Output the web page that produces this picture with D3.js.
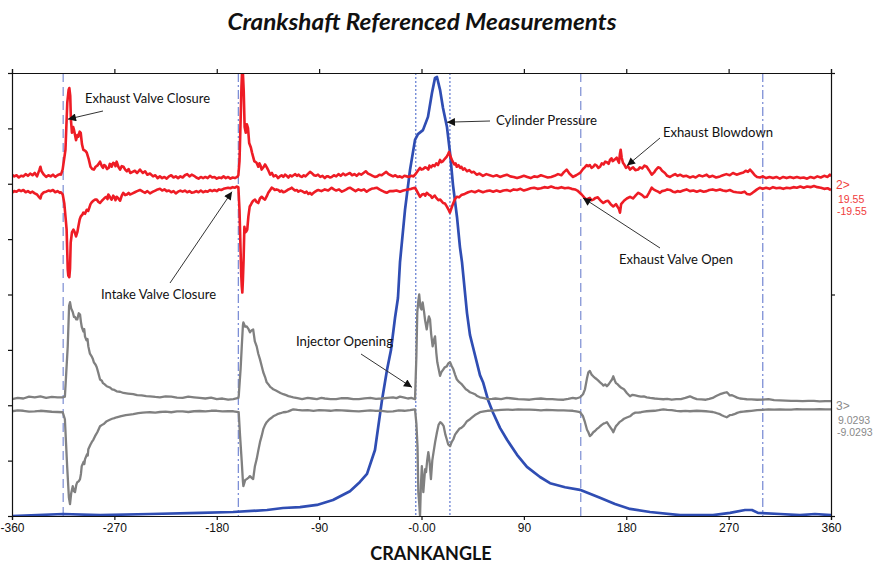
<!DOCTYPE html>
<html><head><meta charset="utf-8">
<script src="https://cdn.jsdelivr.net/npm/d3@7"></script>
<style>body{margin:0;background:#fff}svg{display:block}</style>
</head><body>
<svg id="c" width="879" height="567"></svg>
<script>
// ---------------- DATA ----------------
const xTickValues = [-360,-270,-180,-90,0,90,180,270,360];
const xTickLabels = ["-360","-270","-180","-90","-0.00","90","180","270","360"];
const frameTicks = [0,1,2,3,4,5,6,7,8];
const channelRed = {name:"2>", max:"19.55", min:"-19.55", range:19.55};
const channelGrey = {name:"3>", max:"9.0293", min:"-9.0293", range:9.0293};

const markerAngles = [-315,-161,-5,25,140,300];
const markerKinds  = ["dash","dashdot","dot","dot","dash","dashdot"];

// Red channel (2>) upper / lower envelope  [crank angle, value]
const redUpper = [[-360,1.6],[-358,1.3],[-356,1.5],[-354,1.1],[-352,1.4],[-350,1.3],[-348,1.7],[-346,1.4],[-344,1.8],[-342,1.5],[-340,1.9],[-338,1.3],[-336,2.4],[-335,3.0],[-334,2.2],[-332,1.6],[-330,1.2],[-328,1.5],[-326,1.3],[-324,1.6],[-322,1.2],[-320,1.5],[-318,1.7],[-317,1.6],[-315.5,2.5],[-313,6.0],[-311.4,14.3],[-310.2,16.6],[-309.6,16.9],[-308.8,15.5],[-308.2,11.3],[-307.3,9.0],[-306.2,10.0],[-305.5,9.5],[-304.5,8.5],[-303.7,7.7],[-302.5,8.6],[-301.7,8.3],[-300.5,9.2],[-299.6,9.0],[-298.5,7.0],[-297.3,6.0],[-295.5,5.8],[-294.3,5.5],[-292.5,4.3],[-291,3.0],[-289.5,2.6],[-288,2.5],[-286.5,3.0],[-285,3.2],[-283.5,3.6],[-282.6,3.9],[-281,3.1],[-280,2.8],[-279,3.3],[-278,3.2],[-276.5,2.6],[-275,2.8],[-274,3.5],[-273,3.4],[-272.4,3.0],[-271,3.7],[-270,3.6],[-269,3.1],[-268,3.9],[-266.5,3.0],[-265,2.5],[-263.5,3.1],[-262,3.0],[-260.5,2.5],[-259,2.2],[-257.5,2.6],[-256,1.9],[-254,2.1],[-252,2.3],[-250,1.9],[-247.5,2.5],[-245,1.9],[-243,2.2],[-241,1.6],[-238.7,1.8],[-236,1.3],[-234,1.5],[-232,1.0],[-230,1.3],[-228,1.0],[-226,1.2],[-224,0.9],[-222,1.3],[-220,1.5],[-218,1.1],[-216,1.3],[-214,1.0],[-212,1.3],[-210,1.1],[-208,1.5],[-206,1.7],[-204,1.3],[-202,1.6],[-200,1.4],[-198,1.1],[-196,0.9],[-194,1.2],[-192,1.0],[-190,1.2],[-188,1.0],[-186,1.4],[-184,1.1],[-182,1.2],[-180,0.9],[-178,1.1],[-176,1.0],[-174,1.3],[-172,1.0],[-170,1.2],[-168,0.9],[-166,1.1],[-164,1.0],[-162,1.2],[-161,1.5],[-160,4],[-159,11.3],[-158.3,17],[-157.8,19.5],[-157,19.5],[-156.3,16.5],[-155.5,10.0],[-154.5,9.0],[-153.5,10.5],[-152.5,9.8],[-151.5,7.2],[-150,6.4],[-149,5.5],[-147,4.0],[-145,3.7],[-143.5,3.0],[-142.5,3.6],[-141.5,3.2],[-140.5,2.5],[-139,2.9],[-137.5,3.4],[-136,2.9],[-135,2.5],[-133,1.6],[-131.5,1.9],[-130,1.3],[-128,1.5],[-126,1.0],[-124.5,1.3],[-123,1.5],[-121.5,1.2],[-120,1.6],[-118.5,1.4],[-117,1.1],[-115.5,1.5],[-114,1.3],[-112.5,1.5],[-111,1.7],[-109.5,1.4],[-108,1.6],[-106.5,1.3],[-105,1.2],[-103.5,1.5],[-102,1.3],[-100,1.7],[-98,2.1],[-96,1.8],[-94.5,1.5],[-93,1.4],[-91,1.6],[-89,1.2],[-87,1.4],[-85,1.0],[-83.5,1.3],[-82,1.3],[-80.5,1.1],[-79,1.2],[-77,1.5],[-75,1.3],[-73,1.7],[-71,1.4],[-69,1.8],[-67,1.5],[-65,1.7],[-63,1.9],[-61,1.5],[-59,1.7],[-57,1.4],[-55,1.8],[-53,1.6],[-51,1.9],[-49,2.2],[-47,1.8],[-45,1.6],[-43,1.4],[-41,1.2],[-39,1.3],[-37,1.6],[-35,1.5],[-33,1.8],[-31,2.1],[-29,1.7],[-27,1.5],[-25,1.3],[-23,1.5],[-21,1.2],[-19,1.3],[-17,1.1],[-15,1.4],[-13,1.3],[-11,1.2],[-9,1.4],[-7,1.3],[-5.7,1.6],[-3.5,2.2],[-1.3,2.8],[0,2.5],[1.5,2.6],[3,2.9],[4.6,2.8],[6,2.5],[7,3.2],[8.5,2.9],[10,3.3],[11.5,3.1],[13,3.6],[14.5,3.3],[16.3,4.2],[17.5,3.8],[19,4.0],[20.5,4.4],[22.2,4.8],[23.3,5.2],[24.2,5.6],[25.5,4.8],[26.8,4.2],[28,3.7],[29,3.4],[30,3.6],[31,3.0],[32.5,3.3],[34,2.8],[35,3.0],[36.5,2.5],[38,2.7],[40,2.2],[42,2.4],[44,2.0],[46,2.1],[48.5,1.6],[51,1.8],[54,1.4],[57,1.7],[60,1.5],[63,1.3],[66,1.5],[69,1.2],[72,1.4],[75,1.6],[78,1.3],[81,1.2],[84,1.0],[87,1.2],[90,1.4],[93,1.2],[96,1.0],[99,1.3],[102,1.2],[105,1.5],[108,1.3],[111,1.1],[114,1.2],[117,1.4],[120,1.7],[123,1.5],[125,2.0],[127.6,2.5],[130,1.8],[133.2,1.2],[136,1.5],[139.4,1.9],[142,2.6],[143.5,2.9],[145.2,3.3],[146.5,3.1],[148,3.3],[149.5,2.8],[151,3.0],[152.5,3.4],[154,3.2],[155.5,2.8],[157,3.0],[158.5,3.6],[160,3.4],[161.5,3.9],[163,3.8],[164.5,3.5],[165.7,4.2],[167,4.5],[168,4.0],[170,4.3],[171.6,4.6],[172.6,4.1],[173.6,3.7],[174.4,5.2],[175.1,6.0],[176,4.6],[177.1,3.7],[178.5,3.3],[179.8,2.8],[181.5,3.1],[183.3,2.5],[184.5,2.7],[186,2.9],[188,2.4],[190.4,2.5],[192,2.9],[194,2.7],[196,3.2],[198,3.0],[200,2.4],[202.4,1.6],[204.5,2.0],[206.2,2.5],[208,2.9],[209.7,2.8],[211.5,2.3],[214,1.9],[216,1.4],[218.5,1.2],[221,1.5],[223,1.7],[225,1.4],[227.3,1.6],[230,1.3],[233,1.4],[236,1.1],[238.7,1.3],[241,1.1],[244,1.5],[247,1.3],[250.7,1.6],[253,1.2],[256,1.4],[259,1.1],[262.4,1.3],[265,1.5],[268,1.7],[271,1.5],[273.8,1.9],[277,1.6],[280,1.8],[283,2.0],[285,2.3],[287,2.1],[288.8,2.5],[291,2.0],[293,1.5],[295,1.2],[297.6,1.1],[300,1.3],[303,1.0],[306,1.2],[309,1.0],[312,1.2],[315,0.9],[318,1.2],[321,1.0],[324,1.2],[327,1.0],[330,1.2],[333,1.0],[336,1.1],[339,0.9],[342,1.2],[345,1.0],[348,1.3],[351,1.1],[354,1.4],[357,1.2],[359,1.6],[360,1.3]];

const redLower = [[-360,-1.6],[-358,-1.3],[-356,-1.4],[-354,-1.1],[-352,-1.3],[-350,-1.1],[-348,-1.5],[-346,-1.3],[-344,-1.6],[-342,-1.4],[-340,-1.7],[-338,-1.9],[-336,-2.4],[-335,-2.6],[-334,-1.9],[-332,-1.5],[-330,-1.4],[-328,-1.2],[-326,-1.3],[-324,-1.1],[-322,-1.5],[-320,-1.3],[-318,-1.6],[-317,-1.5],[-315.4,-1.9],[-314,-3.5],[-312,-8],[-311,-15.1],[-310.5,-16.2],[-309.6,-16.5],[-309,-15],[-308.4,-10.4],[-307.3,-8.6],[-306,-8.1],[-305,-8.5],[-303.7,-9.3],[-302.5,-8.5],[-301.7,-7.6],[-300.5,-6.3],[-299.6,-5.8],[-298,-5.4],[-297.3,-5.1],[-295.8,-5.3],[-294.3,-4.6],[-293,-4.8],[-292,-4.2],[-291,-3.6],[-290,-3.3],[-288.5,-3.0],[-287,-2.8],[-285.5,-2.8],[-284,-3.2],[-282.6,-3.4],[-281,-3.0],[-280,-2.8],[-278.5,-2.5],[-277,-2.3],[-276,-2.7],[-275.3,-1.9],[-274.3,-2.2],[-273.5,-2.5],[-272.4,-2.8],[-271,-2.1],[-270,-2.4],[-269,-2.9],[-268,-2.3],[-266.5,-2.6],[-265,-3.0],[-263.5,-2.1],[-262.2,-1.6],[-260.5,-2.0],[-259,-1.9],[-257.5,-1.6],[-256.3,-1.9],[-254,-1.7],[-252,-1.5],[-250,-1.3],[-247.5,-1.1],[-245,-1.4],[-243,-1.6],[-241,-1.3],[-238.7,-1.7],[-236,-1.4],[-234,-1.2],[-232,-1.0],[-229.9,-0.9],[-228,-1.2],[-226,-1.0],[-224,-1.3],[-222,-1.2],[-220,-1.5],[-218,-1.3],[-216,-1.7],[-214,-1.4],[-212,-1.2],[-210,-1.4],[-208,-1.2],[-206,-1.5],[-204,-1.3],[-202,-1.6],[-200,-1.5],[-198,-1.3],[-196,-1.5],[-194,-1.2],[-192,-1.5],[-190,-1.3],[-188,-1.4],[-186,-1.1],[-184,-1.3],[-182,-1.1],[-180,-1.3],[-178,-1.0],[-176,-1.1],[-174,-0.9],[-172,-0.8],[-170,-0.7],[-168,-0.8],[-166,-0.6],[-164,-0.7],[-162.5,-0.5],[-161,-0.6],[-160,-4.6],[-158.5,-16],[-158,-18.1],[-157.5,-19.2],[-157,-17],[-156.4,-13.4],[-155.7,-7.6],[-154.9,-8.6],[-154,-8.4],[-153.2,-8.1],[-152.2,-5.8],[-151,-4.0],[-150,-3.7],[-149.3,-3.4],[-148,-3.0],[-146.4,-2.8],[-145,-3.2],[-143.5,-3.4],[-142,-2.6],[-140.5,-2.3],[-139,-2.6],[-137.6,-2.8],[-136,-2.2],[-134.7,-1.6],[-133,-1.1],[-131.7,-0.7],[-130,-0.9],[-129,-1.1],[-127.5,-1.0],[-125.9,-1.1],[-124.5,-1.4],[-123,-1.2],[-121.5,-1.5],[-120,-1.4],[-118.5,-1.2],[-117,-1.0],[-115.5,-0.9],[-114.1,-0.7],[-112.5,-1.0],[-111,-1.2],[-109.5,-1.1],[-108.3,-1.4],[-106.5,-1.2],[-105,-1.3],[-103.5,-1.5],[-102.4,-1.6],[-101,-1.4],[-99.5,-1.8],[-98,-1.6],[-96.5,-1.9],[-95,-1.6],[-93.5,-1.4],[-92,-1.2],[-90.7,-1.1],[-88,-1.3],[-85,-1.0],[-82,-1.2],[-79,-0.7],[-77,-1.0],[-75,-1.2],[-72.5,-1.0],[-70,-1.4],[-68,-1.2],[-66,-1.0],[-64.5,-0.8],[-62.9,-0.7],[-60.5,-1.0],[-58,-1.3],[-55.5,-1.0],[-53,-1.2],[-50.5,-1.0],[-48.2,-1.4],[-46,-1.1],[-44,-0.9],[-41.5,-0.8],[-39.4,-0.7],[-37,-1.0],[-35,-1.2],[-33,-1.4],[-30.6,-1.6],[-28,-1.3],[-25,-1.3],[-22,-1.2],[-18.9,-1.4],[-16,-1.2],[-14,-1.1],[-12,-1.0],[-9,-0.9],[-5.7,-0.7],[-3.5,-1.5],[-1.3,-2.3],[0.5,-1.9],[2,-1.8],[3.3,-2.1],[4.6,-1.6],[6.3,-1.9],[8,-2.1],[9.2,-2.5],[10.4,-2.3],[11.7,-2.1],[13,-2.5],[14.8,-2.9],[16.5,-2.8],[17.8,-3.1],[19,-3.4],[20.6,-3.5],[22.2,-4.0],[23.6,-4.5],[25,-5.1],[26.5,-4.2],[28,-3.4],[29.5,-2.7],[31,-2.3],[33,-2.4],[35,-2.0],[38,-1.8],[41,-1.5],[44,-1.3],[47,-1.5],[50,-1.2],[54,-1.5],[57,-1.3],[60,-1.2],[63,-1.4],[66,-1.2],[69,-1.4],[72,-1.2],[75,-1.1],[78,-1.3],[81,-1.0],[84,-1.1],[87,-0.9],[90,-1.2],[93,-1.0],[96,-0.8],[99,-0.7],[102,-0.9],[105,-0.8],[108,-0.6],[111,-0.7],[114,-0.5],[117,-0.7],[120,-0.8],[123,-0.6],[126,-0.8],[129,-0.7],[132,-0.9],[135,-1.0],[137,-1.2],[140.8,-1.9],[143,-2.4],[145.2,-2.8],[146.7,-2.6],[148,-2.5],[149.5,-2.9],[151,-2.8],[153,-2.5],[155,-2.4],[157.5,-3.0],[159.8,-3.4],[162,-3.1],[164,-3.0],[166.3,-3.6],[168.6,-4.0],[170,-3.8],[171,-3.6],[172.5,-4.1],[173.5,-4.4],[174.5,-5.1],[175.5,-3.6],[176.8,-3.3],[178,-3.0],[180.5,-2.6],[183.3,-2.3],[186,-2.6],[188.5,-2.0],[190.6,-1.6],[192.3,-1.8],[194,-2.0],[196,-2.4],[198,-2.3],[200,-1.6],[202.4,-0.7],[204,-1.0],[206,-1.2],[208,-1.4],[209.7,-1.6],[211.5,-1.3],[214,-1.2],[216,-1.0],[218.5,-1.1],[221,-1.4],[223,-1.5],[225,-1.3],[227.3,-1.4],[230,-1.2],[233,-1.0],[236,-1.3],[239,-1.2],[242,-1.4],[245,-1.2],[248,-1.4],[250.7,-1.3],[253,-1.1],[256,-1.0],[259,-1.2],[262.4,-1.0],[265,-1.2],[268,-1.3],[271,-1.1],[274,-1.4],[277,-1.5],[281,-1.6],[284,-1.4],[286,-1.8],[288.8,-1.9],[291,-1.6],[293,-1.3],[295,-1.0],[297.6,-0.7],[300,-0.9],[303,-0.7],[306,-0.9],[309,-0.6],[312,-0.8],[315,-0.7],[318,-0.9],[321,-0.7],[324,-0.8],[327,-0.6],[330,-0.7],[333,-0.5],[336,-0.7],[339,-0.5],[342,-0.6],[345,-0.4],[348,-0.6],[351,-0.7],[354,-0.9],[357,-0.8],[360,-1.1]];

// Grey channel (3>) upper / lower envelope
const greyUpper = [[-360,0.5],[-355,0.6],[-350,0.55],[-345,0.7],[-340,0.65],[-335,0.72],[-330,0.6],[-325,0.68],[-320,0.65],[-315.4,0.65],[-313.5,0.7],[-311,4.8],[-309.8,8.1],[-309,8.4],[-308,7.9],[-306.6,7.6],[-305.5,7.2],[-304.6,7.2],[-303.5,7.0],[-302.6,7.0],[-301.3,7.5],[-300.2,7.4],[-299.4,6.8],[-298.7,6.4],[-297.2,6.0],[-296.5,6.2],[-295.8,5.6],[-294.5,5.3],[-293.6,5.4],[-292.9,4.8],[-291.5,4.2],[-290,3.99],[-289,3.8],[-288,3.5],[-286.5,3.3],[-285.5,3.1],[-284,2.6],[-282.6,2.1],[-281,2.0],[-280,1.8],[-278.5,1.7],[-276.7,1.55],[-274,1.45],[-272,1.3],[-270,1.25],[-268,1.14],[-265,1.1],[-262,1.0],[-258,0.95],[-253.4,0.9],[-250,0.82],[-246,0.8],[-242,0.75],[-238.7,0.73],[-234,0.68],[-230,0.65],[-225,0.72],[-220,0.7],[-215,0.62],[-210,0.6],[-205,0.7],[-200,0.65],[-195,0.6],[-190,0.55],[-185,0.62],[-180,0.5],[-175,0.55],[-170,0.45],[-165.4,0.5],[-161,0.6],[-160.7,0.73],[-159,3.0],[-158,4.8],[-157,6.5],[-156.6,6.75],[-155,6.4],[-153.7,6.43],[-152,6.2],[-150.8,5.94],[-149.5,6.1],[-148,6.18],[-146.5,5.2],[-144.9,4.8],[-143.5,4.2],[-142,3.74],[-140.5,3.2],[-139.1,2.69],[-137.5,2.3],[-136.1,1.87],[-134.5,1.7],[-133,1.5],[-131.5,1.4],[-130.3,1.30],[-128,1.2],[-126,1.1],[-124,1.0],[-121.5,0.9],[-119,0.82],[-117,0.75],[-115,0.7],[-112.7,0.65],[-109,0.58],[-105,0.5],[-100,0.6],[-96,0.55],[-92,0.5],[-88,0.6],[-85,0.55],[-80,0.5],[-75,0.5],[-70,0.58],[-65,0.57],[-60,0.5],[-55,0.5],[-50,0.56],[-45,0.6],[-40,0.52],[-35,0.55],[-30,0.6],[-25,0.65],[-22,0.58],[-18.9,0.7],[-15,0.62],[-12,0.55],[-9,0.6],[-5.7,0.49],[-4.5,4.0],[-3.7,7.57],[-2.8,8.5],[-2.0,9.03],[-1,8.0],[0,7.81],[1,8.38],[2.2,7.65],[3.2,6.9],[4.6,6.18],[5.5,6.75],[6.5,7.24],[7.5,7.0],[8.5,5.8],[9.8,4.8],[10.8,5.3],[11.9,5.61],[13,4.3],[13.9,3.5],[15,3.0],[16.3,2.4],[17.5,2.7],[19.2,2.93],[20.5,3.1],[22.2,3.17],[23.5,3.4],[25.1,3.5],[26.5,3.2],[28,2.93],[29.5,2.5],[31,2.12],[33,1.9],[35,1.75],[36.8,1.55],[39,1.3],[40.8,1.2],[42.6,1.06],[45,0.98],[47,0.9],[49,0.75],[51.4,0.65],[55,0.58],[58,0.5],[62,0.52],[65,0.55],[70,0.5],[75,0.6],[80,0.55],[85,0.5],[90,0.48],[95,0.45],[100,0.52],[105,0.55],[110,0.5],[115,0.5],[120,0.46],[125,0.45],[129,0.52],[133,0.6],[136,0.55],[139.4,0.65],[142,0.9],[143.7,1.3],[145.5,2.2],[146.7,2.69],[148,2.8],[149.5,2.5],[151,2.36],[153,2.2],[155,2.05],[157,1.87],[158.5,1.75],[160,1.6],[161.5,1.7],[163,1.55],[164.5,1.7],[166,1.9],[167.5,2.1],[168.6,2.36],[170,2.0],[171,1.8],[172.5,1.7],[174,1.55],[176,1.4],[178,1.3],[180.5,1.0],[183.3,0.73],[185.5,0.85],[188,0.8],[190.5,0.75],[193,0.7],[195.5,0.72],[198,0.65],[201,0.6],[205,0.55],[208.5,0.52],[212.6,0.49],[216,0.52],[220,0.45],[224,0.5],[228,0.5],[232,0.6],[236,0.73],[239,0.6],[242,0.5],[246,0.48],[250,0.45],[253,0.52],[256,0.6],[259,0.75],[262.4,0.9],[264,0.95],[266,1.0],[268.3,1.06],[269.7,0.95],[271,0.8],[273,0.82],[275,0.73],[277.5,0.62],[280,0.55],[283,0.52],[285.9,0.49],[290,0.48],[295,0.45],[300,0.46],[305,0.5],[310,0.42],[315,0.4],[320,0.38],[325,0.35],[330,0.36],[335,0.33],[340,0.35],[345,0.35],[350,0.32],[355,0.34],[360,0.33]];

const greyLower = [[-360,-0.49],[-355,-0.42],[-350,-0.45],[-345,-0.52],[-340,-0.5],[-335,-0.45],[-330,-0.49],[-325,-0.53],[-320,-0.55],[-315.4,-0.57],[-313.5,-1.14],[-311.5,-5.0],[-310,-7.5],[-309,-8.06],[-308,-7.2],[-306.6,-6.6],[-305.5,-7.0],[-304.6,-7.08],[-303.5,-6.5],[-302.6,-6.27],[-301.3,-6.2],[-300.2,-6.02],[-299.4,-5.6],[-298.7,-4.96],[-297,-4.6],[-296.4,-4.8],[-295.8,-4.39],[-294,-4.0],[-293.4,-4.1],[-292.9,-3.58],[-291,-3.2],[-289.9,-3.01],[-288.4,-2.8],[-287,-2.52],[-285,-2.2],[-283.8,-1.95],[-282.6,-1.71],[-280.8,-1.6],[-279,-1.5],[-276.7,-1.30],[-274,-1.18],[-272,-1.1],[-270,-1.05],[-268,-0.98],[-264,-0.88],[-260,-0.8],[-256.5,-0.76],[-253.4,-0.73],[-249,-0.65],[-245,-0.6],[-242,-0.58],[-238.7,-0.57],[-234,-0.6],[-230,-0.55],[-225,-0.52],[-220,-0.57],[-215,-0.5],[-210,-0.5],[-205,-0.55],[-200,-0.49],[-195,-0.47],[-190,-0.5],[-185,-0.45],[-180,-0.45],[-175,-0.5],[-170,-0.49],[-165.4,-0.49],[-160.7,-0.57],[-159.5,-2.5],[-158,-4.64],[-157,-6.2],[-156.6,-6.59],[-155,-6.1],[-153.7,-6.02],[-152,-5.9],[-150.8,-5.78],[-149.5,-5.9],[-148,-6.02],[-146.5,-5.0],[-144.9,-4.39],[-143.5,-3.7],[-142,-3.01],[-140.5,-2.5],[-139.1,-1.95],[-137.5,-1.6],[-136.1,-1.38],[-134.5,-1.22],[-133,-1.1],[-131.5,-1.0],[-130.3,-0.90],[-128,-0.8],[-126,-0.7],[-124,-0.65],[-121.5,-0.57],[-119,-0.55],[-117,-0.5],[-115,-0.42],[-112.7,-0.33],[-109,-0.38],[-105,-0.41],[-100,-0.4],[-95,-0.45],[-90,-0.4],[-85,-0.41],[-80,-0.45],[-75,-0.4],[-70,-0.42],[-65,-0.45],[-60,-0.48],[-55,-0.5],[-50,-0.45],[-45,-0.41],[-40,-0.46],[-35,-0.45],[-30,-0.52],[-25,-0.5],[-20,-0.42],[-15,-0.45],[-10,-0.4],[-5.7,-0.33],[-4.5,-1.5],[-3.5,-3.34],[-2.8,-7.08],[-2.0,-8.0],[-1.3,-9.03],[-0.5,-6.5],[0.3,-4.96],[1.0,-6.0],[1.6,-7.08],[2.5,-6.0],[3.2,-5.2],[4.0,-5.45],[5,-4.5],[6,-3.82],[7,-4.5],[8.3,-6.02],[9.5,-4.5],[10.6,-3.82],[12,-3.0],[13.6,-2.20],[15,-1.6],[16.5,-1.38],[18,-1.5],[19.5,-1.71],[21,-2.4],[22.2,-2.77],[23.5,-3.2],[25.1,-3.34],[26.5,-3.0],[28,-2.77],[29.5,-2.4],[31,-2.2],[33.5,-1.9],[35,-1.85],[36.8,-1.71],[38.5,-1.5],[40,-1.3],[42.6,-1.14],[45,-0.95],[47,-0.8],[49,-0.7],[51.4,-0.57],[55,-0.5],[58,-0.45],[62,-0.43],[65,-0.41],[70,-0.38],[75,-0.35],[80,-0.37],[85,-0.33],[90,-0.36],[95,-0.35],[100,-0.38],[105,-0.41],[110,-0.37],[115,-0.4],[120,-0.42],[125,-0.41],[129,-0.44],[133,-0.45],[136,-0.5],[139.4,-0.57],[142,-0.9],[143.7,-1.38],[145.5,-2.0],[146.7,-2.2],[148,-2.52],[149.5,-2.4],[151,-2.2],[152.5,-2.1],[154,-1.95],[155.5,-1.85],[157,-1.71],[158.5,-1.6],[160,-1.5],[161.5,-1.45],[163,-1.38],[164.5,-1.6],[166,-1.8],[167.5,-2.0],[168.6,-2.2],[170,-1.9],[171,-1.7],[172.5,-1.55],[174,-1.38],[176,-1.25],[178,-1.1],[180.5,-1.0],[183.3,-0.90],[185.5,-0.72],[188,-0.6],[190.5,-0.6],[193,-0.57],[195.5,-0.52],[198,-0.49],[201,-0.47],[205,-0.45],[208.5,-0.4],[212.6,-0.33],[216,-0.38],[220,-0.4],[224,-0.45],[228,-0.49],[232,-0.46],[236,-0.49],[239,-0.47],[242,-0.45],[246,-0.47],[250,-0.49],[253,-0.52],[256,-0.55],[259,-0.63],[262.4,-0.73],[264,-0.82],[266,-0.9],[268.3,-0.98],[269.7,-0.9],[271,-0.8],[273,-0.78],[275,-0.73],[277.5,-0.62],[280,-0.55],[283,-0.52],[285.9,-0.49],[290,-0.45],[295,-0.4],[300,-0.37],[305,-0.33],[310,-0.35],[315,-0.33],[320,-0.36],[325,-0.35],[330,-0.32],[335,-0.33],[340,-0.34],[345,-0.33],[350,-0.31],[355,-0.33],[360,-0.33]];

// Cylinder pressure (% of full scale)
const pressure = [[-360,0],[-315,0.45],[-282.6,0.2],[-238.7,0.45],[-194.7,0.7],[-165.7,0.9],[-135.8,1.35],[-121.8,1.8],[-106.8,2.0],[-91.9,2.5],[-77.8,3.6],[-62.9,5.6],[-54.1,7.7],[-47.9,9.5],[-40.9,14.9],[-34.7,26.2],[-30.3,33.0],[-26.8,37.5],[-23.3,44.7],[-20.7,49.2],[-18.9,57.3],[-14.5,69.1],[-10.1,78.1],[-5.7,84.9],[-3.1,86.2],[1.3,87.1],[5.7,90.1],[9.2,95.5],[11.9,98.9],[13.6,99.1],[16.3,96.2],[18.9,92.1],[22.4,87.8],[25.1,81.9],[27.7,74.7],[31.2,67.5],[33.8,60.7],[35.6,57.3],[40.0,45.8],[42.6,40.9],[45.3,38.1],[51.4,31.8],[54.1,30.2],[58.5,26.2],[62.9,23.3],[69.0,19.9],[75.2,17.2],[84.0,13.8],[92.7,11.1],[104.2,8.8],[113.0,7.4],[126.2,6.5],[139.3,5.9],[148.1,5.0],[156.9,4.1],[170.1,2.7],[183.3,1.6],[200.9,0.9],[227.3,0.2],[256.3,0.2],[271.2,0.7],[284.4,1.35],[290.5,1.35],[295.8,0.7],[315.2,0.45],[332.7,0.2],[345.9,0.45],[360,0.2]];

const annotationTexts = ["Exhaust Valve Closure","Intake Valve Closure","Cylinder Pressure","Exhaust Blowdown","Exhaust Valve Open","Injector Opening"];
// arrow targets in data coordinates: [angle, channel, value]
const annotationTargets = [[-310.8,"red",11.4],[-166.6,"red",-1.4],[22.4,"blue",88.9],[180.7,"red",3.2],[142,"red",-2.5],[-8.4,"grey",1.46]];

// ---------------- LAYOUT ----------------
const L = 12, R = 831, T = 73, B = 516;
const svg = d3.select("#c");
const x = d3.scaleLinear().domain([-360,360]).range([L,R]);
const frameY = d3.scaleLinear().domain([0,8]).range([B,T]);
const yRed = d3.scaleLinear().domain([-channelRed.range, channelRed.range]).range([frameY(4), frameY(8)]);
const yGrey = d3.scaleLinear().domain([-channelGrey.range, channelGrey.range]).range([frameY(0), frameY(4)]);
const yBlue = d3.scaleLinear().domain([0,100]).range([B, T]);
const yOf = {red:yRed, grey:yGrey, blue:yBlue};

const defs = svg.append("defs");
defs.append("clipPath").attr("id","plot").append("rect").attr("x",L).attr("y",T).attr("width",R-L).attr("height",B-T);
defs.append("marker").attr("id","ah").attr("viewBox","0 0 10 10").attr("refX",10).attr("refY",5)
  .attr("markerWidth",10).attr("markerHeight",8).attr("markerUnits","userSpaceOnUse").attr("orient","auto")
  .append("path").attr("d","M0,0L10,5L0,10z").attr("fill","#111");

// title
svg.append("text").attr("x",422).attr("y",30).attr("text-anchor","middle")
  .attr("font-family","Lato, 'Open Sans', sans-serif").attr("font-style","italic").attr("font-weight","bold")
  .attr("font-size",23).attr("fill","#111").attr("textLength",389).attr("lengthAdjust","spacingAndGlyphs")
  .text("Crankshaft Referenced Measurements");

// markers
const dashFor = {dash:"9,5", dashdot:"9,3,2,3", dot:"2,2"};
const colFor = {dash:"#8595d6", dashdot:"#7d8fd6", dot:"#3d5cc6"};
svg.append("g").selectAll("line").data(markerAngles).join("line")
  .attr("x1",d=>x(d)).attr("x2",d=>x(d)).attr("y1",T).attr("y2",B)
  .attr("stroke",(d,i)=>colFor[markerKinds[i]]).attr("stroke-width",(d,i)=>markerKinds[i]==="dot"?1:1.3)
  .attr("stroke-dasharray",(d,i)=>dashFor[markerKinds[i]]);

const plot = svg.append("g").attr("clip-path","url(#plot)");
const mk = ys => d3.line().x(d=>x(d[0])).y(d=>ys(d[1]));
plot.append("path").datum(pressure).attr("d",mk(yBlue)).attr("fill","none").attr("stroke","#2f4db3").attr("stroke-width",2.7).attr("stroke-linejoin","round");
[greyUpper,greyLower].forEach(s=>plot.append("path").datum(s).attr("d",mk(yGrey)).attr("fill","none").attr("stroke","#808080").attr("stroke-width",2.3).attr("stroke-linejoin","round"));
[redUpper,redLower].forEach(s=>plot.append("path").datum(s).attr("d",mk(yRed)).attr("fill","none").attr("stroke","#ee1c25").attr("stroke-width",2.6).attr("stroke-linejoin","round"));

// axes
const axisFont = "'Liberation Sans Narrow','Arial Narrow','Liberation Sans',Arial,sans-serif";
const xb = svg.append("g").attr("transform",`translate(0,${B})`)
  .call(d3.axisBottom(x).tickValues(xTickValues).tickFormat((d,i)=>xTickLabels[i]).tickSize(4).tickPadding(3));
xb.selectAll("text").attr("font-family",axisFont).attr("font-size",12).attr("fill","#111");
svg.append("g").attr("transform",`translate(0,${T})`).call(d3.axisTop(x).tickValues(xTickValues).tickFormat("").tickSize(4));
svg.append("g").attr("transform",`translate(${L},0)`).call(d3.axisLeft(frameY).tickValues(frameTicks).tickFormat("").tickSize(4));
svg.append("g").attr("transform",`translate(${R},0)`).call(d3.axisRight(frameY).tickValues([0,4,8]).tickFormat("").tickSize(4));
svg.selectAll(".domain, .tick line").attr("stroke","#111").attr("stroke-width",1.2);

// axis title
svg.append("text").attr("x",431).attr("y",560).attr("text-anchor","middle")
  .attr("font-family","Lato, 'Open Sans', sans-serif").attr("font-weight","bold").attr("font-size",18).attr("fill","#111").text("CRANKANGLE");

// channel labels on right
function chanLabel(ch, ys, col){
  const g = svg.append("g").attr("font-family","'Liberation Sans',Arial,sans-serif").attr("fill",col);
  g.append("text").attr("x",836).attr("y",ys(0)+5).attr("font-size",12).text(ch.name);
  g.append("text").attr("x",838).attr("y",ys(0)+19).attr("font-size",10.5).text(ch.max);
  g.append("text").attr("x",837).attr("y",ys(0)+31).attr("font-size",10.5).text(ch.min);
}
chanLabel(channelRed, yRed, "#f03c3c");
chanLabel(channelGrey, yGrey, "#8a8a8a");

// annotations
const textPos = [[85,103,125],[101,299,115],[496,125,101],[663,137,110],[619,264,114],[296,346,97]];
const tailPos = [[103,111],[170,283],[490,121],[660,138],[660,248],[361,354]];
const ag = svg.append("g");
annotationTexts.forEach((t,i)=>{
  const [tx,ty,tw] = textPos[i];
  ag.append("text").attr("x",tx).attr("y",ty).attr("font-family","Lato, 'Open Sans', sans-serif")
    .attr("font-size",13).attr("fill","#111").attr("textLength",tw).attr("lengthAdjust","spacingAndGlyphs").text(t);
  const tg = annotationTargets[i];
  ag.append("line").attr("x1",tailPos[i][0]).attr("y1",tailPos[i][1])
    .attr("x2",x(tg[0])).attr("y2",yOf[tg[1]](tg[2]))
    .attr("stroke","#333").attr("stroke-width",1).attr("marker-end","url(#ah)");
});
</script>
</body></html>
